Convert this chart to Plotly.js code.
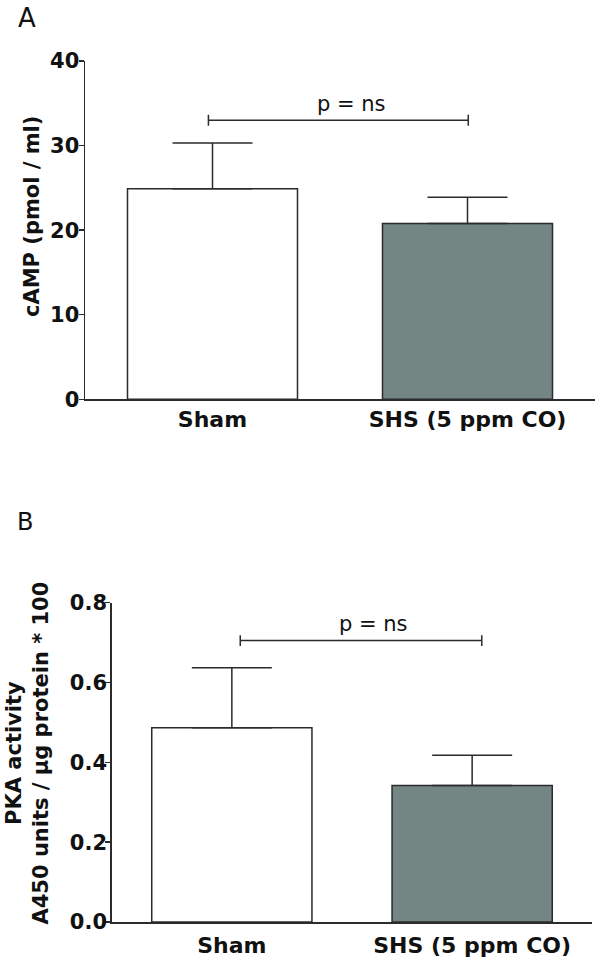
<!DOCTYPE html>
<html>
<head>
<meta charset="utf-8">
<script src="https://cdn.plot.ly/plotly-3.0.1.min.js"></script>
<style>
  html, body { margin: 0; padding: 0; background: #ffffff; }
  #chart { width: 600px; height: 978px; }
</style>
</head>
<body>
<div id="chart"></div>
<script>
// ---- data ----
const categories = ['Sham', 'SHS (5 ppm CO)'];
const campMean = [24.9, 20.8];
const campSem = [5.4, 3.1];
const pkaMean = [0.487, 0.342];
const pkaSem = [0.150, 0.076];
const campTicks = [0, 10, 20, 30, 40];
const pkaTicks = [0, 0.2, 0.4, 0.6, 0.8];
const sigLabel = 'p = ns';
const campBracket = [-0.016, 1.003, 33];   // from, to, level
const pkaBracket = [0.035, 1.04, 0.705];

// ---- style ----
const FONT = 'DejaVu Sans, Arial, sans-serif';
const INK = '#2b2b2b';
const barColors = ['#ffffff', '#738684'];
const W = 600, H = 978;

function bars(mean, sem, xa, ya) {
  return {
    type: 'bar', x: categories, y: mean, xaxis: xa, yaxis: ya,
    marker: { color: barColors, line: { color: INK, width: 1.5 } },
    error_y: { type: 'data', array: sem, arrayminus: sem.map(() => 0), symmetric: false,
               color: INK, thickness: 1.5, width: 40 },
    hoverinfo: 'skip', showlegend: false
  };
}

const data = [
  bars(campMean, campSem, 'x', 'y'),
  bars(pkaMean, pkaSem, 'x2', 'y2')
];

function px(v) { return v / W; }
function py(v) { return (H - v) / H; }

const xbase = {
  type: 'category', range: [-0.5, 1.5], showline: true, linecolor: INK, linewidth: 1.5,
  ticks: '', showgrid: false, zeroline: false, fixedrange: true,
  tickfont: { family: FONT, size: 22, color: '#111', weight: 'bold' }
};
const ybase = {
  showline: true, linecolor: INK, linewidth: 1.5, ticks: 'outside', ticklen: 5,
  tickwidth: 1.5, tickcolor: INK, showgrid: false, zeroline: false, fixedrange: true,
  tickfont: { family: FONT, size: 21, color: '#111', weight: 'bold' }
};

function bracket(b, xref, yref, yspan) {
  return [
    { type: 'line', xref: xref, yref: yref, x0: b[0], x1: b[1], y0: b[2], y1: b[2],
      line: { color: INK, width: 1.5 } },
    { type: 'line', xref: xref, yref: yref, x0: b[0], x1: b[0], y0: b[2] - yspan, y1: b[2] + yspan,
      line: { color: INK, width: 1.5 } },
    { type: 'line', xref: xref, yref: yref, x0: b[1], x1: b[1], y0: b[2] - yspan, y1: b[2] + yspan,
      line: { color: INK, width: 1.5 } }
  ];
}

function note(text, x, y, size, bold, angle) {
  return { text: text, xref: 'paper', yref: 'paper', x: px(x), y: py(y),
           xanchor: 'center', yanchor: 'middle', showarrow: false, textangle: angle || 0,
           font: { family: FONT, size: size, color: '#111', weight: bold ? 'bold' : 'normal' } };
}

const layout = {
  width: W, height: H,
  margin: { l: 0, r: 0, t: 0, b: 0 },
  paper_bgcolor: '#ffffff', plot_bgcolor: '#ffffff',
  bargap: 1 / 3,
  xaxis: Object.assign({}, xbase, { domain: [px(85), px(595)], anchor: 'y', ticklabelstandoff: 0 }),
  yaxis: Object.assign({}, ybase, { domain: [py(399.3), py(61)], range: [0, 40], anchor: 'x',
                                    tickvals: campTicks, ticklabelstandoff: -5 }),
  xaxis2: Object.assign({}, xbase, { domain: [px(111.7), px(592.3)], anchor: 'y2', ticklabelstandoff: 3 }),
  yaxis2: Object.assign({}, ybase, { domain: [py(922), py(602.7)], range: [0, 0.8], anchor: 'x2',
                                     tickvals: pkaTicks, tickformat: '.1f', ticklabelstandoff: -6 }),
  shapes: [].concat(bracket(campBracket, 'x', 'y', 0.65), bracket(pkaBracket, 'x2', 'y2', 0.0133)),
  annotations: [
    note('A', 27, 18, 26, false),
    note('B', 25, 521.7, 24, false),
    note('cAMP (pmol / ml)', 32, 217, 21, true, -90),
    note('PKA activity<br>A450 units / μg protein * 100', 26.5, 753, 21, true, -90),
    { text: sigLabel, xref: 'x', yref: 'y', x: 0.545, y: 34.9, showarrow: false,
      xanchor: 'center', yanchor: 'middle',
      font: { family: FONT, size: 21, color: '#111' } },
    { text: sigLabel, xref: 'x2', yref: 'y2', x: 0.59, y: 0.747, showarrow: false,
      xanchor: 'center', yanchor: 'middle',
      font: { family: FONT, size: 21, color: '#111' } }
  ]
};

Plotly.newPlot('chart', data, layout, { displayModeBar: false, staticPlot: true });
</script>
</body>
</html>
